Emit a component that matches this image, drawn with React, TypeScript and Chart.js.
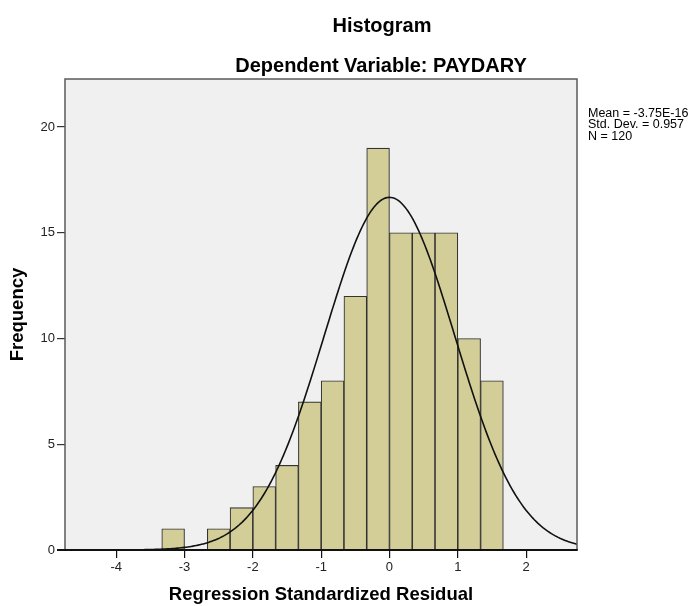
import { useEffect, useRef } from "react";
import { Chart, registerables } from "chart.js";

Chart.register(...registerables);

const chartTitle = "Histogram";
const chartSubtitle = "Dependent Variable: PAYDARY";
const xAxisTitle = "Regression Standardized Residual";
const yAxisTitle = "Frequency";
const statsLines = ["Mean = -3.75E-16", "Std. Dev. = 0.957", "N = 120"];

// histogram bins (midpoints of bins of width 1/3) and their counts
const binMidpoints = [
  -3.1667, -2.8333, -2.5, -2.1667, -1.8333, -1.5, -1.1667, -0.8333, -0.5,
  -0.1667, 0.1667, 0.5, 0.8333, 1.1667, 1.5,
];
const frequencies = [1, 0, 1, 2, 3, 4, 7, 8, 12, 19, 15, 15, 15, 10, 8];
const binWidth = 1 / 3;

// normal curve parameters shown in the legend
const residualMean = -3.75e-16;
const residualSD = 0.957;
const sampleN = 120;

const xTickValues = [-4, -3, -2, -1, 0, 1, 2];
const yTickValues = [0, 5, 10, 15, 20];
const xMin = -4.75;
const xMax = 2.745;
const yMin = 0;
const yMax = 22.27;

const FONT = "'Liberation Sans', Arial, sans-serif";

function normalCurve() {
  const pts: { x: number; y: number }[] = [];
  const steps = 300;
  for (let i = 0; i <= steps; i++) {
    const x = xMin + ((xMax - xMin) * i) / steps;
    const z = (x - residualMean) / residualSD;
    const y =
      (sampleN * binWidth * Math.exp(-0.5 * z * z)) /
      (residualSD * Math.sqrt(2 * Math.PI));
    pts.push({ x, y });
  }
  return pts;
}

const decorPlugin = {
  id: "decor",
  beforeDraw(chart: any) {
    const { ctx, chartArea } = chart;
    const { left, top, right, bottom } = chartArea;
    ctx.save();
    ctx.fillStyle = "#f0f0f0";
    ctx.fillRect(left, top, right - left, bottom - top);
    ctx.restore();
  },
  afterDatasetsDraw(chart: any) {
    const { ctx, chartArea } = chart;
    const { left, top, right, bottom } = chartArea;
    ctx.save();
    ctx.strokeStyle = "#5a5a5a";
    ctx.lineWidth = 1.5;
    ctx.beginPath();
    ctx.moveTo(left, bottom);
    ctx.lineTo(left, top);
    ctx.lineTo(right, top);
    ctx.lineTo(right, bottom);
    ctx.stroke();
    ctx.strokeStyle = "#111";
    ctx.lineWidth = 1.8;
    ctx.beginPath();
    ctx.moveTo(left - 8, bottom);
    ctx.lineTo(right + 0.75, bottom);
    ctx.stroke();
    ctx.restore();
  },
  afterDraw(chart: any) {
    const { ctx } = chart;
    ctx.save();
    ctx.fillStyle = "#000";
    ctx.textAlign = "center";
    ctx.textBaseline = "alphabetic";
    ctx.font = `bold 20px ${FONT}`;
    ctx.fillText(chartTitle, 382, 32);
    ctx.fillText(chartSubtitle, 381, 72);
    ctx.font = `12.5px ${FONT}`;
    ctx.textAlign = "left";
    statsLines.forEach((line, i) => {
      ctx.fillText(line, 588, 117 + i * 11.3);
    });
    ctx.restore();
  },
};

export default function App() {
  const canvasRef = useRef<HTMLCanvasElement | null>(null);

  useEffect(() => {
    if (!canvasRef.current) return;
    const chart = new Chart(canvasRef.current, {
      type: "bar",
      data: {
        datasets: [
          {
            type: "line",
            data: normalCurve(),
            borderColor: "#111",
            borderWidth: 1.6,
            pointRadius: 0,
            tension: 0,
            fill: false,
            order: 0,
          } as any,
          {
            type: "bar",
            data: binMidpoints.map((x, i) => ({ x, y: frequencies[i] })),
            backgroundColor: "#d3ce98",
            borderColor: "#333",
            borderWidth: 1.1,
            barPercentage: 1,
            categoryPercentage: 1,
            order: 1,
          } as any,
        ],
      },
      options: {
        responsive: false,
        animation: false,
        devicePixelRatio: 1,
        layout: { padding: { left: 0, right: 114, top: 79, bottom: 0 } },
        plugins: {
          legend: { display: false },
          tooltip: { enabled: false },
          title: { display: false },
        },
        scales: {
          x: {
            type: "linear",
            min: xMin,
            max: xMax,
            offset: false,
            afterBuildTicks: (scale: any) => {
              scale.ticks = xTickValues.map((v) => ({ value: v }));
            },
            afterFit: (scale: any) => {
              scale.height = 56;
            },
            border: { display: false },
            grid: {
              display: true,
              drawOnChartArea: false,
              drawTicks: true,
              tickLength: 8,
              color: "#111",
              lineWidth: 1.2,
              offset: false,
            },
            ticks: {
              autoSkip: false,
              maxRotation: 0,
              padding: 2,
              color: "#222",
              font: { family: FONT, size: 13 },
            },
            title: {
              display: true,
              text: xAxisTitle,
              color: "#000",
              font: { family: FONT, size: 18.5, weight: "bold" },
              padding: { top: 0, bottom: 0 },
            },
          },
          y: {
            type: "linear",
            min: yMin,
            max: yMax,
            afterBuildTicks: (scale: any) => {
              scale.ticks = yTickValues.map((v) => ({ value: v }));
            },
            afterFit: (scale: any) => {
              scale.width = 65;
            },
            border: { display: false },
            grid: {
              display: true,
              drawOnChartArea: false,
              drawTicks: true,
              tickLength: 8,
              color: "#333",
              lineWidth: 1.2,
            },
            ticks: {
              padding: 2,
              color: "#222",
              font: { family: FONT, size: 13 },
            },
            title: {
              display: true,
              text: yAxisTitle,
              color: "#000",
              font: { family: FONT, size: 18.5, weight: "bold" },
              padding: { top: 7, bottom: 0 },
            },
          },
        },
      },
      plugins: [decorPlugin],
    } as any);
    return () => chart.destroy();
  }, []);

  return (
    <div style={{ position: "absolute", left: 0, top: 0, width: 691, height: 606 }}>
      <canvas ref={canvasRef} width={691} height={606} />
    </div>
  );
}
